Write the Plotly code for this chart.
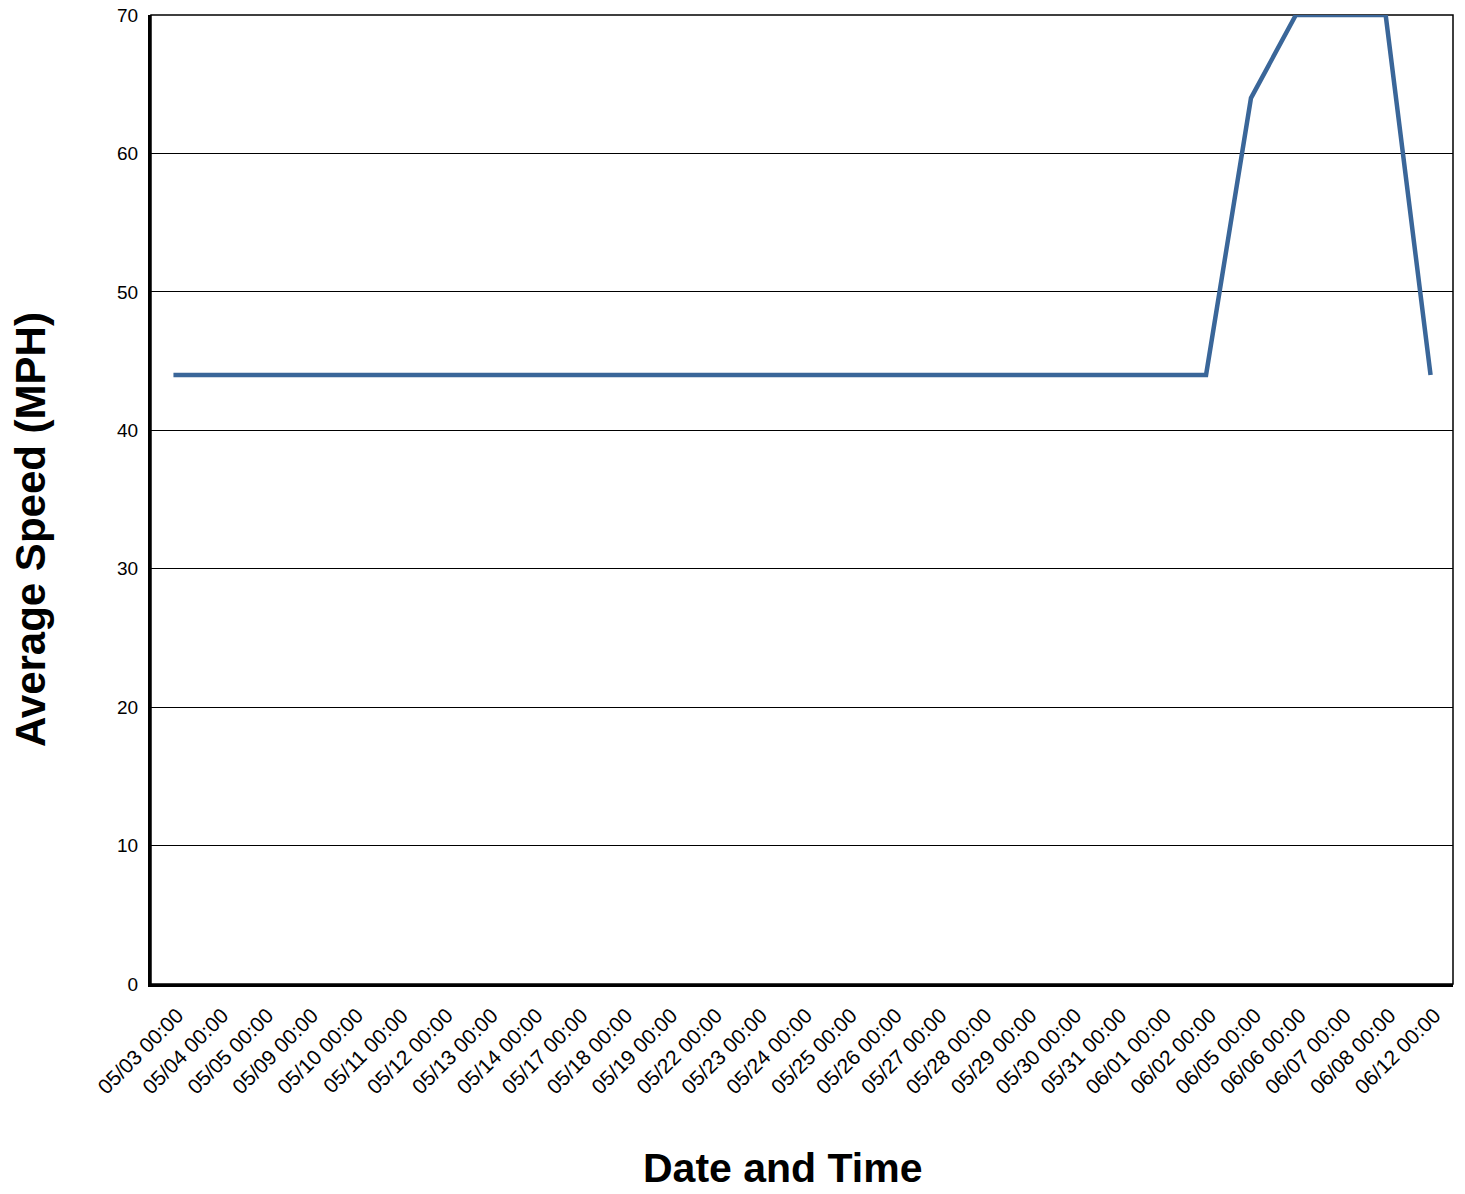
import plotly.graph_objects as go

categories = ["05/03 00:00", "05/04 00:00", "05/05 00:00", "05/09 00:00", "05/10 00:00",
              "05/11 00:00", "05/12 00:00", "05/13 00:00", "05/14 00:00", "05/17 00:00",
              "05/18 00:00", "05/19 00:00", "05/22 00:00", "05/23 00:00", "05/24 00:00",
              "05/25 00:00", "05/26 00:00", "05/27 00:00", "05/28 00:00", "05/29 00:00",
              "05/30 00:00", "05/31 00:00", "06/01 00:00", "06/02 00:00", "06/05 00:00",
              "06/06 00:00", "06/07 00:00", "06/08 00:00", "06/12 00:00"]
speeds = [44, 44, 44, 44, 44, 44, 44, 44, 44, 44, 44, 44, 44, 44, 44, 44, 44, 44, 44, 44,
          44, 44, 44, 44, 64, 70, 70, 70, 44]
y_ticks = [0, 10, 20, 30, 40, 50, 60, 70]

FONT = "Liberation Sans, Arial, sans-serif"

fig = go.Figure()
fig.add_trace(go.Scatter(x=categories, y=speeds, mode="lines",
                         line=dict(color="#3A6699", width=4.5), hoverinfo="x+y",
                         cliponaxis=False))

fig.update_layout(
    width=1465, height=1194,
    margin=dict(l=151, r=12, t=15, b=210, autoexpand=False),
    paper_bgcolor="white", plot_bgcolor="white",
    font=dict(family=FONT, color="black"),
    showlegend=False,
)
fig.update_xaxes(
    type="category", tickangle=-45, tickfont=dict(size=21),
    showgrid=False, showline=True, linecolor="black", linewidth=3,
    ticks="", range=[-0.5, len(categories) - 0.5], automargin=False,
    ticklabelstandoff=8, ticklabelshift=4, zeroline=False,
)
fig.update_yaxes(
    range=[0, 70], tickvals=y_ticks, tickfont=dict(size=19),
    showgrid=True, gridcolor="black", gridwidth=1.2,
    showline=True, linecolor="black", linewidth=3, ticks="",
    automargin=False, ticklabelstandoff=6, zeroline=False,
)
fig.add_shape(type="rect", xref="paper", yref="paper", x0=0, x1=1, y0=0, y1=1,
              line=dict(color="black", width=1.5), layer="below")
fig.add_annotation(text="<b>Date and Time</b>", xref="paper", yref="paper",
                   x=(783 - 151) / 1302, y=-(1168 - 984) / 969, xanchor="center",
                   yanchor="middle", showarrow=False, font=dict(size=41, family=FONT))
fig.add_annotation(text="<b>Average Speed (MPH)</b>", xref="paper", yref="paper",
                   x=-(151 - 30) / 1302, y=(984 - 530) / 969, xanchor="center",
                   yanchor="middle", textangle=-90, showarrow=False,
                   font=dict(size=42, family=FONT))
fig.write_html("out.html", config={"displayModeBar": False},
               post_script="document.body.style.margin='0';")
